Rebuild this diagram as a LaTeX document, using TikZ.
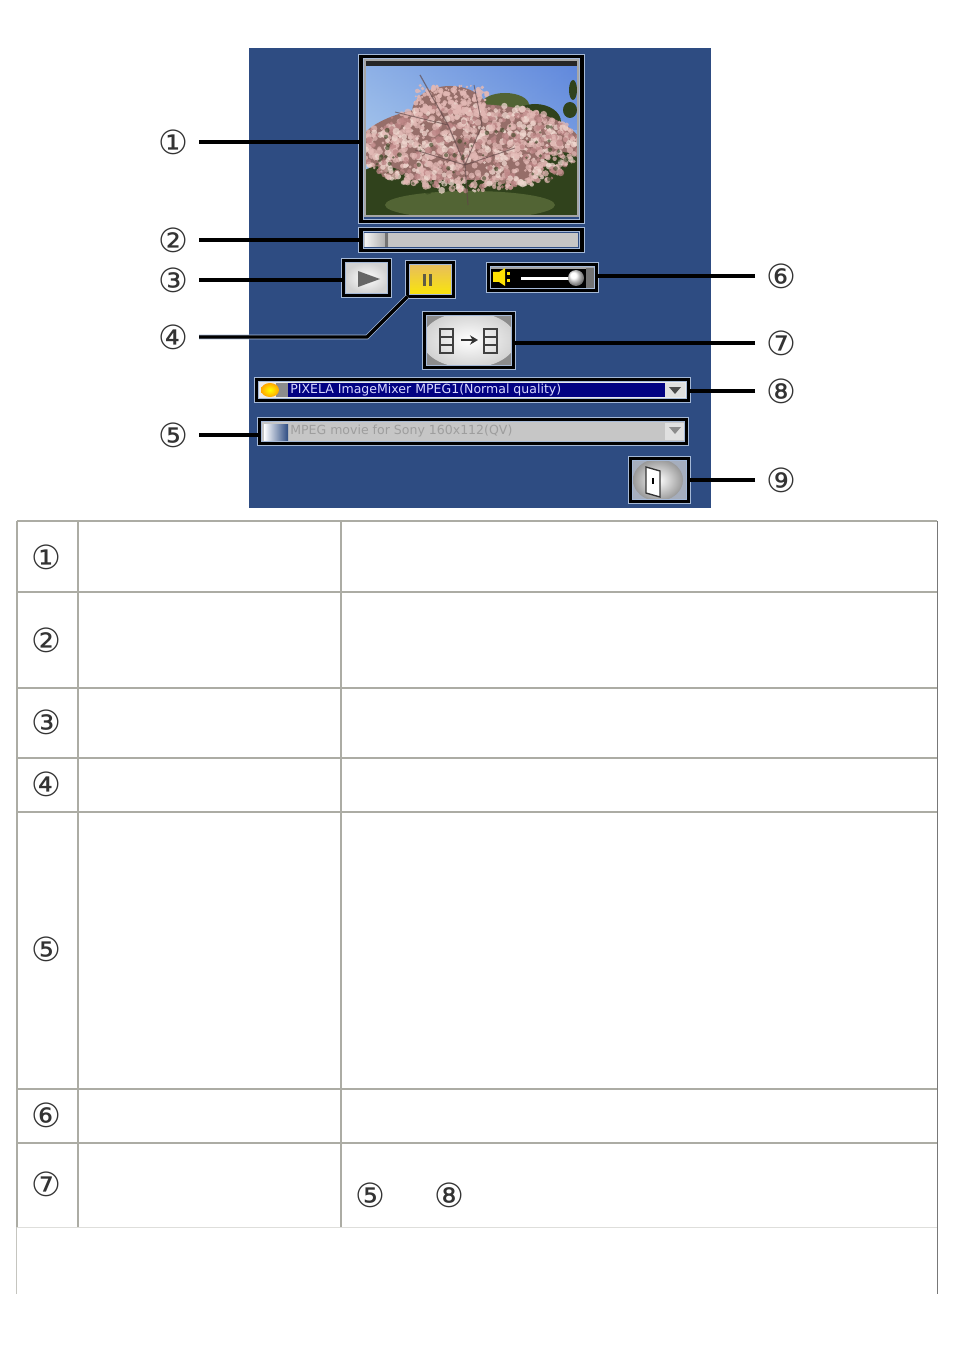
\documentclass[tikz,border=0pt]{standalone}
\usepackage{fontspec}
\setmainfont{DejaVu Sans}
\usetikzlibrary{shadings,arrows.meta}
\definecolor{panel}{RGB}{46,76,130}
\definecolor{halo}{RGB}{165,185,215}
\definecolor{grid}{RGB}{172,172,164}
\definecolor{gridd}{RGB}{120,120,120}
\definecolor{navy}{RGB}{2,2,130}
\definecolor{combo}{RGB}{198,198,198}
\definecolor{pinkA}{RGB}{226,184,180}
\definecolor{pinkB}{RGB}{190,135,135}
\definecolor{pinkC}{RGB}{240,216,208}
\definecolor{pinkD}{RGB}{150,110,105}
\definecolor{leaf}{RGB}{48,66,28}
\definecolor{leafB}{RGB}{82,100,52}
\definecolor{skyA}{RGB}{95,135,220}
\definecolor{skyB}{RGB}{185,215,240}
\definecolor{twig}{RGB}{95,70,70}
\definecolor{pauseA}{RGB}{232,190,90}
\definecolor{pauseB}{RGB}{250,230,10}
\newcommand\cn[1]{\raisebox{-0.37em}[0pt][0pt]{#1}}
\tikzset{
  x=0.75pt,y=-0.75pt,
  lab/.style={inner sep=0pt,outer sep=0pt,minimum width=39pt,font=\fontsize{25}{26}\selectfont,text=black!80},
  tlab/.style={inner sep=0pt,font=\fontsize{25}{26}\selectfont,text=black!80},
  conn/.style={line width=2.6pt,black,preaction={draw=halo,line width=3.6pt}},
  frame/.style 2 args={draw=black,line width=2.9pt,fill=none,inner sep=0pt,outer sep=0pt,
     minimum width=#1*0.75pt,minimum height=#2*0.75pt,preaction={draw=halo,line width=4pt}},
  gridline/.style={grid,line width=1.3pt},
  combotext/.style={inner sep=0pt,anchor=west,font=\fontsize{9.4}{10}\selectfont},
}
\begin{document}
\begin{tikzpicture}
\useasboundingbox (0,0) rectangle (954,1351);
\fill[white] (0,0) rectangle (954,1351);
% panel
\fill[panel] (249,48) rectangle (711,508);

% photo
\begin{scope}
\clip (365,60) rectangle (578,216);
\shade[top color=skyA,bottom color=skyB] (365,60) rectangle (578,216);
\shade[left color=skyB,right color=skyA,opacity=0.5] (365,60) rectangle (578,130);
\fill[black!85] (365,60) rectangle (578,66);
\fill[leafB] (505,105) ellipse (24 and 12);
\fill[leaf] (535,122) ellipse (26 and 18);
\fill[leaf] (573,90) ellipse (4 and 10);
\fill[leaf] (570,110) ellipse (7 and 8);
\fill[pinkD] (470,148) ellipse (112 and 44);
\fill[pinkD] (450,112) ellipse (38 and 26);
\fill[leaf] (365,180) rectangle (578,216);
\fill[leaf] (382,192) ellipse (32 and 26);
\fill[leaf] (562,182) ellipse (26 and 30);
\fill[leafB] (470,205) ellipse (85 and 14);
\pgfmathsetseed{4711}
\foreach \i in {1,...,1100}{
  \pgfmathsetmacro{\ang}{360*rnd}
  \pgfmathsetmacro{\rad}{sqrt(rnd)}
  \pgfmathsetmacro{\cx}{472+112*\rad*cos(\ang)}
  \pgfmathsetmacro{\cy}{148+44*\rad*sin(\ang)}
  \pgfmathsetmacro{\rr}{1.4+2.2*rnd}
  \pgfmathsetmacro{\pick}{rnd}
  \ifdim\pick pt<0.5pt \def\cc{pinkA}\else\ifdim\pick pt<0.72pt \def\cc{pinkB}\else\def\cc{pinkC}\fi\fi
  \fill[\cc,opacity=0.75] (\cx,\cy) circle (\rr);
}
\foreach \i in {1,...,200}{
  \pgfmathsetmacro{\cx}{415+72*rnd}
  \pgfmathsetmacro{\cy}{85+30*rnd}
  \pgfmathsetmacro{\rr}{1+1.6*rnd}
  \fill[pinkA,opacity=0.85] (\cx,\cy) circle (\rr);
}
\foreach \i in {1,...,70}{
  \pgfmathsetmacro{\cx}{372+195*rnd}
  \pgfmathsetmacro{\cy}{125+70*rnd}
  \pgfmathsetmacro{\rr}{1+1.5*rnd}
  \fill[leaf,opacity=0.55] (\cx,\cy) circle (\rr);
}
\draw[twig,opacity=0.65,line width=0.9pt] (468,205) -- (465,165) -- (448,125) -- (420,75);
\draw[twig,opacity=0.65,line width=0.7pt] (465,165) -- (482,125) -- (474,85);
\draw[twig,opacity=0.65,line width=0.7pt] (448,125) -- (395,112);
\draw[twig,opacity=0.65,line width=0.7pt] (465,165) -- (515,148);
\draw[twig,opacity=0.65,line width=0.7pt] (465,165) -- (415,150);
\end{scope}
\draw[black!35,line width=0.8pt] (365,60) rectangle (578,216);

% slider
\fill[combo] (363,233) rectangle (578,247);
\shade[left color=white!95!black,right color=black!35] (365,234) rectangle (388,247);
\fill[black!55] (385,233) rectangle (388,247);

% play
\shade[inner color=white,outer color=black!18] (345,263) rectangle (388,293);
\fill[black!60] (358,271) -- (380,279) -- (358,287) -- cycle;

% pause
\shade[top color=pauseA,bottom color=pauseB] (409,265) rectangle (452,295);
\fill[black!60!yellow!70!black] (423,274) rectangle (426,286);
\fill[black!60!yellow!70!black] (429,274) rectangle (432,286);

% volume
\fill[black] (490,266) rectangle (595,290);
\fill[black!35] (490,266) rectangle (595,269);
\fill[black!55] (586,268) rectangle (595,290);
\fill[yellow!85!orange] (493,272) -- (499,272) -- (505,268) -- (505,286) -- (499,282) -- (493,282) -- cycle;
\fill[yellow!85!orange] (507,272) rectangle (510,275);
\fill[yellow!85!orange] (507,279) rectangle (510,282);
\fill[white] (521,277) rectangle (572,280);
\shade[ball color=white] (576,278) circle (8);

% convert button
\fill[black!45] (426,315) rectangle (512,366);
\shade[inner color=white,outer color=black!18] (469,340) ellipse (47 and 28);
\foreach \fx in {440,484}{
  \draw[black!75,line width=1.6pt] (\fx,329) rectangle +(13,24);
  \draw[black!75,line width=1.4pt] (\fx,337) -- +(13,0) (\fx,345) -- +(13,0);
}
\draw[black!80,line width=2.2pt,-{Stealth[length=6pt,width=7pt]}] (461,340) -- (478,340);

% combo 8
\fill[black!8] (258,381) rectangle (687,399);
\fill[navy] (288,383) rectangle (665,397);
\fill[black!45] (276,383) rectangle (288,397);
\shade[inner color=yellow,outer color=orange!70!yellow] (270,390) ellipse (9 and 7);
\fill[black!12] (665,383) rectangle (685,397);
\fill[black!70] (669,387) -- (681,387) -- (675,394) -- cycle;
\node[combotext,text=white!85!blue] (t8) at (290,390) {PIXELA ImageMixer MPEG1(Normal quality)};

% combo 5
\fill[combo] (261,421) rectangle (685,442);
\shade[left color=white,right color=panel] (264,424) rectangle (288,440);
\fill[black!12] (665,423) rectangle (685,440);
\fill[black!45] (669,427) -- (681,427) -- (675,434) -- cycle;
\node[combotext,text=black!38] (t5) at (290,431) {MPEG movie for Sony 160x112(QV)};

% exit
\fill[panel!70!black!40] (632,460) rectangle (687,500);
\shade[inner color=white,outer color=black!40] (658,480) ellipse (25 and 21);
\fill[white] (646,467) -- (660,471) -- (660,497) -- (646,493) -- cycle;
\draw[black!80,line width=1pt] (646,467) -- (660,471) -- (660,497) -- (646,493) -- cycle;
\fill[black] (652,478) rectangle (654,484);

% frames
\node[frame={221}{165}] (photo) at (471.5,139) {};
\node[frame={221}{21}] (slider) at (471.5,240) {};
\node[frame={46}{35}] (play) at (366.5,278) {};
\node[frame={46}{34}] (pause) at (430.5,279.5) {};
\node[frame={108}{26}] (vol) at (542.5,277.5) {};
\node[frame={89}{54}] (conv) at (469,340.5) {};
\node[frame={432}{21}] (c8) at (472.5,390) {};
\node[frame={427}{24}] (c5) at (473,431.5) {};
\node[frame={58}{43}] (exit) at (659.5,480) {};

% labels
\node[lab] (l1) at (173,142) {\cn{①}};
\node[lab] (l2) at (173,240) {\cn{②}};
\node[lab] (l3) at (173,280) {\cn{③}};
\node[lab] (l4) at (173,337) {\cn{④}};
\node[lab] (l5) at (173,435) {\cn{⑤}};
\node[lab] (l6) at (781,276) {\cn{⑥}};
\node[lab] (l7) at (781,343) {\cn{⑦}};
\node[lab] (l8) at (781,391) {\cn{⑧}};
\node[lab] (l9) at (781,480) {\cn{⑨}};

% connectors
\coordinate (bend4) at (367,337);
\draw[conn] (l1.east) -- (l1.east -| photo.west);
\draw[conn] (l2.east) -- (l2.east -| slider.west);
\draw[conn] (l3.east) -- (l3.east -| play.west);
\draw[conn,line join=round] (l4.east) -- (bend4) -- (pause.south west);
\draw[conn] (l5.east) -- (l5.east -| c5.west);
\draw[conn] (l6.west) -- (l6.west -| vol.east);
\draw[conn] (l7.west) -- (l7.west -| conv.east);
\draw[conn] (l8.west) -- (l8.west -| c8.east);
\draw[conn] (l9.west) -- (l9.west -| exit.east);

% table
\foreach \yy in {521,592,688,758,812,1089,1143}{
  \draw[gridline] (17,\yy) -- (937,\yy);
}
\draw[grid!40,line width=0.7pt] (17,1227) -- (937,1227);
\foreach \xx in {17,78,341}{
  \draw[gridline] (\xx,521) -- (\xx,1227);
}
\draw[gridd,line width=1.1pt] (937.5,521) -- (937.5,1227);
\draw[grid!70,line width=1pt] (16.5,1227) -- (16.5,1294);
\draw[gridd,line width=0.9pt] (937.5,1227) -- (937.5,1294);

\node[tlab] (r1) at (46.5,557) {\cn{①}};
\node[tlab] (r2) at (46.5,640) {\cn{②}};
\node[tlab] (r3) at (46.5,722) {\cn{③}};
\node[tlab] (r4) at (46.5,784) {\cn{④}};
\node[tlab] (r5) at (46.5,949) {\cn{⑤}};
\node[tlab] (r6) at (46.5,1115) {\cn{⑥}};
\node[tlab] (r7) at (46.5,1184) {\cn{⑦}};
\node[tlab] (r75) at (370.5,1195) {\cn{⑤}};
\node[tlab] (r78) at (449.5,1195) {\cn{⑧}};
\end{tikzpicture}
\end{document}
